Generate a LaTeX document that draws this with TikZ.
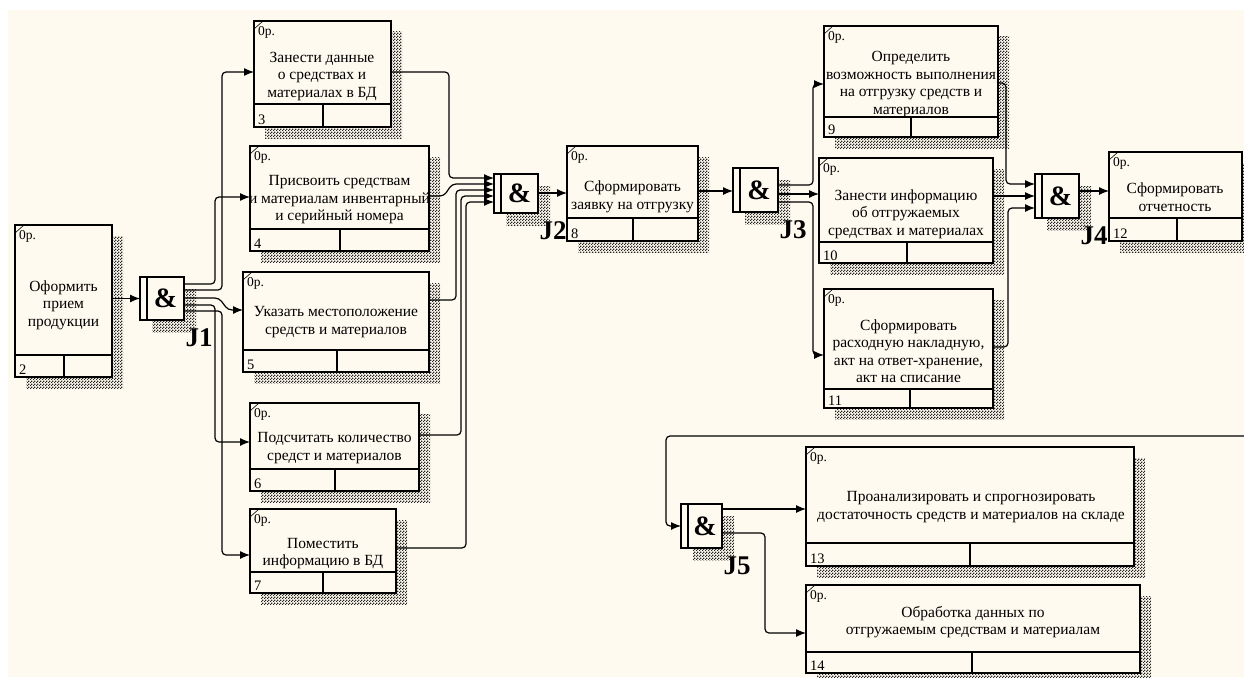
\documentclass[tikz,border=0pt]{standalone}
\usepackage{fontspec}
\setmainfont{Liberation Serif}
\usetikzlibrary{arrows.meta,patterns}
\definecolor{bgcream}{RGB}{255,250,239}
\pgfdeclarepatternformonly{shdots}{\pgfpointorigin}{\pgfqpoint{3pt}{3pt}}{\pgfqpoint{3pt}{3pt}}{%
 \pgfpathrectangle{\pgfqpoint{0pt}{0pt}}{\pgfqpoint{1.5pt}{1.5pt}}%
 \pgfpathrectangle{\pgfqpoint{1.5pt}{1.5pt}}{\pgfqpoint{1.5pt}{1.5pt}}%
 \pgfusepath{fill}}
\newcommand\boxfont{\fontsize{15.5}{17.5}\selectfont}
\newcommand\reffont{\fontsize{13.5}{15}\selectfont}
\newcommand\numfont{\fontsize{14.5}{16}\selectfont}
\newcommand\ampfont{\fontsize{28}{30}\selectfont\bfseries}
\newcommand\jfont{\fontsize{27}{30}\selectfont\bfseries}
\tikzset{
 shadowpat/.style={pattern=shdots, pattern color=black!85},
 uobbox/.style={draw, line width=1.4pt, fill=bgcream, inner sep=0, outer sep=0},
 thinline/.style={line width=1.2pt},
 uobtext/.style={align=center, font=\boxfont, inner sep=0},
 link/.style={line width=1.2pt, rounded corners=4pt, -{Latex[length=10pt,width=8pt]}},
}
% name x1 y1 x2 y2 footerY dividerX number
\newcommand\uob[8]{%
 \fill[shadowpat] (#2+11,#3+11) rectangle (#4+11,#5+11);
 \node[uobbox, minimum width=#4-#2, minimum height=#5-#3, anchor=north west] (#1) at (#2,#3) {};
 \draw[thinline] (#2,#6) -- (#4,#6) (#7,#6) -- (#7,#5);
 \draw[line width=0.6pt] (#2,#3+8) -- (#2+9,#3);
 \node[anchor=north west, font=\reffont, inner sep=0] (#1ref) at (#2+4,#3+5) {0р.};
 \node[anchor=south west, font=\numfont, inner sep=0] (#1num) at (#2+4,#5-2) {#8};
}
% name x1 y1 x2 y2 label
\newcommand\junc[6]{%
 \fill[shadowpat] (#2+12,#3+12) rectangle (#4+12,#5+12);
 \node[uobbox, minimum width=#4-#2, minimum height=#5-#3, anchor=north west] (#1) at (#2,#3) {};
 \draw[thinline] (#2+7,#3) -- (#2+7,#5);
 \node[font=\ampfont, inner sep=0] (#1amp) at ({(#2+7+#4)/2},{(#3+#5)/2}) {\&};
 \node[font=\jfont, inner sep=0] (#1lab) at (#4+15,#5+18) {#6};
}
\begin{document}
\begin{tikzpicture}[x=1pt,y=-1pt]
\useasboundingbox (0,0) rectangle (1244,677);
\fill[white] (0,0) rectangle (1244,677);
\fill[bgcream] (8,10) rectangle (1244,677);

\uob{b2}{15}{225}{112}{377}{355}{64}{2}
\node[uobtext] (t2) at (63.5,305) {Оформить\\прием\\продукции};
\uob{b3}{254}{21}{391}{127}{104}{323}{3}
\node[uobtext] (t3) at (322,76.5) {Занести данные\\о средствах и\\материалах в БД};
\uob{b4}{250}{146}{429}{251}{229}{340}{4}
\node[uobtext] (t4) at (339.5,200) {Присвоить средствам\\и материалам инвентарный\\и серийный номера};
\uob{b5}{243}{272}{429}{372}{350}{337}{5}
\node[uobtext] (t5) at (336,322) {Указать местоположение\\средств и материалов};
\uob{b6}{250}{403}{419}{491}{469}{335}{6}
\node[uobtext] (t6) at (334.5,448) {Подсчитать количество\\средст и материалов};
\uob{b7}{250}{509}{396}{593}{572}{323}{7}
\node[uobtext] (t7) at (323,553.5) {Поместить\\информацию в БД};
\uob{b8}{567}{146}{698}{241}{218}{633}{8}
\node[uobtext] (t8) at (632.5,197) {Сформировать\\заявку на отгрузку};
\uob{b9}{824}{26}{998}{137}{117}{911}{9}
\node[uobtext] (t9) at (911,84.5) {Определить\\возможность выполнения\\на отгрузку средств и\\материалов};
\uob{b10}{819}{158}{993}{263}{242}{907}{10}
\node[uobtext] (t10) at (906,214) {Занести информацию\\об отгружаемых\\средствах и материалах};
\uob{b11}{824}{289}{993}{408}{389}{910}{11}
\node[uobtext] (t11) at (908.5,351) {Сформировать\\расходную накладную,\\акт на ответ-хранение,\\акт на списание};
\uob{b12}{1109}{152}{1242}{241}{218}{1177}{12}
\node[uobtext] (t12) at (1175,197) {Сформировать\\отчетность};
\uob{b13}{806}{447}{1134}{566}{543}{970}{13}
\node[uobtext] (t13) at (971,507) {Проанализировать и спрогнозировать\\достаточность средств и материалов на складе};
\uob{b14}{806}{585}{1140}{673}{652}{972}{14}
\node[uobtext] (t14) at (973,622) {Обработка данных по\\отгружаемым средствам и материалам};

\junc{j1}{140}{277}{184}{320}{J1}
\junc{j2}{494}{174}{538}{213}{J2}
\junc{j3}{733}{168}{778}{212}{J3}
\junc{j4}{1035}{174}{1079}{218}{J4}
\junc{j5}{681}{504}{722}{548}{J5}

% box 2 -> J1
\draw[link] (b2.east |- j1.west) -- (j1.west);
% J1 fan-out
\draw[link] (j1.east |- 0,284) -- (215,284) -- (215,197) -- (b4.west |- 0,197);
\draw[link] (j1.east |- 0,290) -- (222,290) -- (222,72) -- (b3.west |- 0,72);
\draw[link] (j1.east |- 0,298) -- (219,298) -- (228,310) -- (b5.west |- 0,310);
\draw[link] (j1.east |- 0,305) -- (215,305) -- (215,442) -- (b6.west |- 0,442);
\draw[link] (j1.east |- 0,311) -- (222,311) -- (222,555) -- (b7.west |- 0,555);
% into J2
\draw[link] (b3.east |- 0,72) -- (449,72) -- (449,178) -- (j2.west |- 0,178);
\draw[link] (b4.east |- 0,196) -- (444,196) -- (452,184) -- (j2.west |- 0,184);
\draw[link] (b5.east |- 0,300) -- (456,300) -- (456,190) -- (j2.west |- 0,190);
\draw[link] (b6.east |- 0,435) -- (461,435) -- (461,196) -- (j2.west |- 0,196);
\draw[link] (b7.east |- 0,548) -- (466,548) -- (466,202) -- (j2.west |- 0,202);
% J2 -> 8 -> J3
\draw[link] (j2.east |- 0,193) -- (b8.west |- 0,193);
\draw[link] (b8.east |- 0,191) -- (j3.west |- 0,191);
% J3 fan-out
\draw[link] (j3.east |- 0,185) -- (813,185) -- (813,84) -- (b9.west |- 0,84);
\draw[link] (j3.east |- 0,194) -- (b10.west |- 0,194);
\draw[link] (j3.east |- 0,202) -- (813,202) -- (813,355) -- (b11.west |- 0,355);
% into J4
\draw[link] (b9.east |- 0,83) -- (1006,83) -- (1006,184) -- (j4.west |- 0,184);
\draw[link] (b10.east |- 0,196) -- (j4.west |- 0,196);
\draw[link] (b11.east |- 0,347) -- (1008,347) -- (1008,208) -- (j4.west |- 0,208);
\draw[link] (j4.east |- 0,191) -- (b12.west |- 0,191);
% return line into J5
\coordinate (ret) at (1244,436);
\draw[link] (ret) -- (666,436) -- (666,526) -- (j5.west |- 0,526);
\draw[link] (j5.east |- 0,509) -- (b13.west |- 0,509);
\draw[link] (j5.east |- 0,533) -- (765,533) -- (765,633) -- (b14.west |- 0,633);
\end{tikzpicture}
\end{document}
